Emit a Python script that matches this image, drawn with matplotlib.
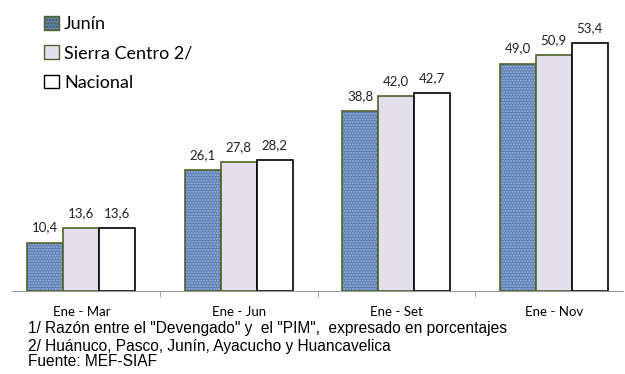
import numpy as np
import matplotlib.pyplot as plt
from matplotlib.patches import Patch

# datos del grafico (avance de ejecucion, %)
periodos = ['Ene - Mar', 'Ene - Jun', 'Ene - Set', 'Ene - Nov']
junin = [10.4, 26.1, 38.8, 49.0]
sierra_centro = [13.6, 27.8, 42.0, 50.9]
nacional = [13.6, 28.2, 42.7, 53.4]
nombres = ['Junín', 'Sierra Centro 2/', 'Nacional']
notas = ['1/ Razón entre el "Devengado" y  el "PIM",  expresado en porcentajes',
         '2/ Huánuco, Pasco, Junín, Ayacucho y Huancavelica',
         'Fuente: MEF-SIAF']

azul = '#5B7EB6'
puntos = '#9DB3D8'
lila = '#E4DFEC'
verde = '#4F6228'

fig = plt.figure(figsize=(6.25, 3.74), dpi=100)
ax = fig.add_axes([12/625, 83/374, 611/625, 278.4/374])

x = np.arange(len(periodos))
w = 0.228

# Junin: fondo azul + patron de puntos + borde verde
ax.bar(x - w, junin, w, color=azul, linewidth=0)
ax.bar(x - w, junin, w, fill=False, hatch='......', edgecolor=puntos, linewidth=0)
ax.bar(x - w, junin, w, fill=False, edgecolor=verde, linewidth=1.2)
ax.bar(x, sierra_centro, w, color=lila, edgecolor=verde, linewidth=1.2)
ax.bar(x + w, nacional, w, color='white', edgecolor='black', linewidth=1.2)

for serie, dx in [(junin, -w), (sierra_centro, 0), (nacional, w)]:
    for xi, v in zip(x, serie):
        ax.annotate(f'{v:.1f}'.replace('.', ','), (xi + dx, v), xytext=(0, 8),
                    textcoords='offset points', ha='center', va='baseline',
                    fontsize=9.5, family='Lato', color='#222222')

ax.set_xlim(-0.44, 3.44)
ax.set_ylim(0, 60)
ax.set_yticks([])
for s in ['top', 'left', 'right']:
    ax.spines[s].set_visible(False)
ax.spines['bottom'].set_color('#9A9A9A')
ax.set_xticks(x)
ax.set_xticklabels(periodos, family='Lato', fontsize=9.5)
ax.tick_params(axis='x', length=0, pad=10.5)
ax.set_xticks([0.5, 1.5, 2.5], minor=True)
ax.tick_params(axis='x', which='minor', length=4, color='#9A9A9A')

handles = [
    Patch(facecolor=azul, edgecolor=verde, hatch='.....', linewidth=1),
    Patch(facecolor=lila, edgecolor=verde, linewidth=1),
    Patch(facecolor='white', edgecolor='black', linewidth=1),
]
fig.legend(handles, nombres, loc='upper left', bbox_to_anchor=(28/625, 1 - 0/374),
           frameon=False, handlelength=0.8, handleheight=0.8, handletextpad=0.3,
           labelspacing=0.72, prop={'family': 'Lato', 'size': 13})

for i, (t, yy) in enumerate(zip(notas, [329, 346, 362])):
    fig.text(28/625, 1 - yy/374, t, va='center', ha='left',
             family='Liberation Sans', fontsize=11.2)

fig.savefig('out.png', dpi=100)
